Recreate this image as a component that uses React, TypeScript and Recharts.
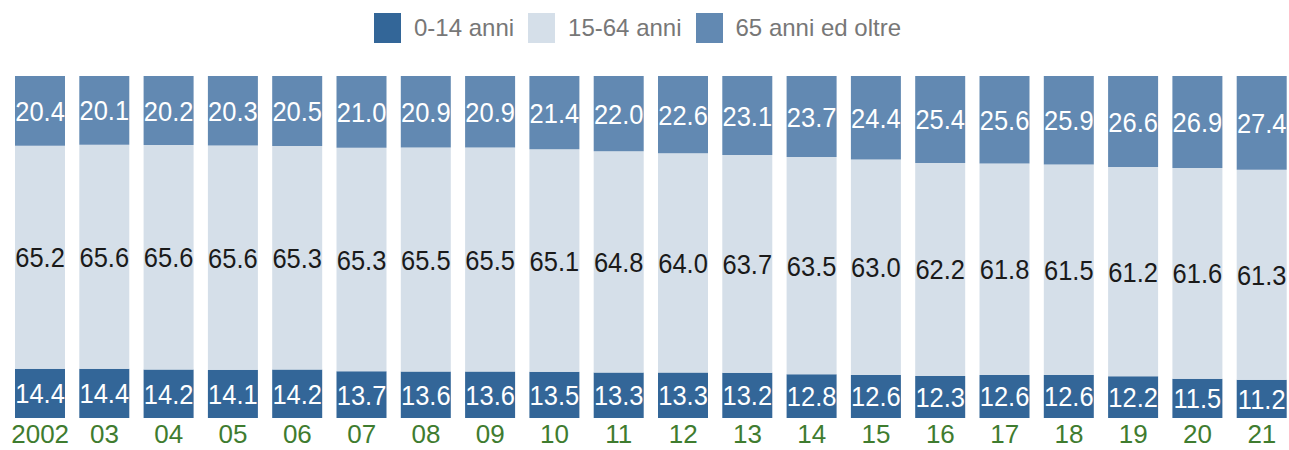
import React from 'react';
import { BarChart, Bar, XAxis, YAxis, Legend, LabelList } from 'recharts';

const years = ['2002', '03', '04', '05', '06', '07', '08', '09', '10', '11', '12', '13', '14', '15', '16', '17', '18', '19', '20', '21'];
const young = [14.4, 14.4, 14.2, 14.1, 14.2, 13.7, 13.6, 13.6, 13.5, 13.3, 13.3, 13.2, 12.8, 12.6, 12.3, 12.6, 12.6, 12.2, 11.5, 11.2];
const adults = [65.2, 65.6, 65.6, 65.6, 65.3, 65.3, 65.5, 65.5, 65.1, 64.8, 64.0, 63.7, 63.5, 63.0, 62.2, 61.8, 61.5, 61.2, 61.6, 61.3];
const elderly = [20.4, 20.1, 20.2, 20.3, 20.5, 21.0, 20.9, 20.9, 21.4, 22.0, 22.6, 23.1, 23.7, 24.4, 25.4, 25.6, 25.9, 26.6, 26.9, 27.4];

const series = [
  { key: 'young', name: '0-14 anni', color: '#336698', text: '#ffffff', values: young },
  { key: 'adults', name: '15-64 anni', color: '#d5dfe9', text: '#1a1a1a', values: adults },
  { key: 'elderly', name: '65 anni ed oltre', color: '#6289b2', text: '#ffffff', values: elderly },
];

const data = years.map((year, i) => ({
  year,
  young: young[i],
  adults: adults[i],
  elderly: elderly[i],
}));

const FONT = '"Liberation Sans", Arial, Helvetica, sans-serif';

function makeLabel(values: number[], fill: string) {
  return (props: any) => {
    const { x, y, width, height, index } = props;
    const cx = Number(x) + Number(width) / 2;
    const cy = Number(y) + Number(height) / 2;
    return (
      <text
        transform={`translate(${cx},${cy}) scale(1,1.12)`}
        textAnchor="middle"
        dominantBaseline="central"
        fontSize={25.5}
        fontFamily={FONT}
        fill={fill}
      >
        {values[index].toFixed(1)}
      </text>
    );
  };
}

const YearTick = (props: any) => {
  const { x, y, payload } = props;
  return (
    <text x={x} y={y} dy={17} textAnchor="middle" fontSize={26} fontFamily={FONT} fill="#3f7c2f">
      {payload.value}
    </text>
  );
};

const renderLegend = () => (
  <div
    style={{
      display: 'flex',
      justifyContent: 'center',
      alignItems: 'center',
      height: 56,
      fontFamily: FONT,
      fontSize: 24,
      color: '#777',
    }}
  >
    {series.map((s) => (
      <div key={s.key} style={{ display: 'flex', alignItems: 'center', marginRight: 14 }}>
        <span style={{ display: 'inline-block', width: 27, height: 30, background: s.color, marginRight: 13 }} />
        <span>{s.name}</span>
      </div>
    ))}
  </div>
);

export default function App() {
  return (
    <div style={{ position: 'absolute', left: 0, top: 0, background: '#fff' }}>
      <BarChart
        width={1289}
        height={450}
        data={data}
        stackOffset="expand"
        barCategoryGap={7}
        margin={{ top: 20, right: -5, bottom: 0, left: 8 }}
      >
        <XAxis dataKey="year" axisLine={false} tickLine={false} height={32} interval={0} tick={<YearTick />} />
        <YAxis hide domain={[0, 1]} />
        <Legend verticalAlign="top" content={renderLegend} wrapperStyle={{ top: 0, left: 0, width: 1289 }} />
        {series.map((s) => (
          <Bar key={s.key} dataKey={s.key} name={s.name} stackId="a" fill={s.color} isAnimationActive={false}>
            <LabelList dataKey={s.key} content={makeLabel(s.values, s.text)} />
          </Bar>
        ))}
      </BarChart>
    </div>
  );
}
